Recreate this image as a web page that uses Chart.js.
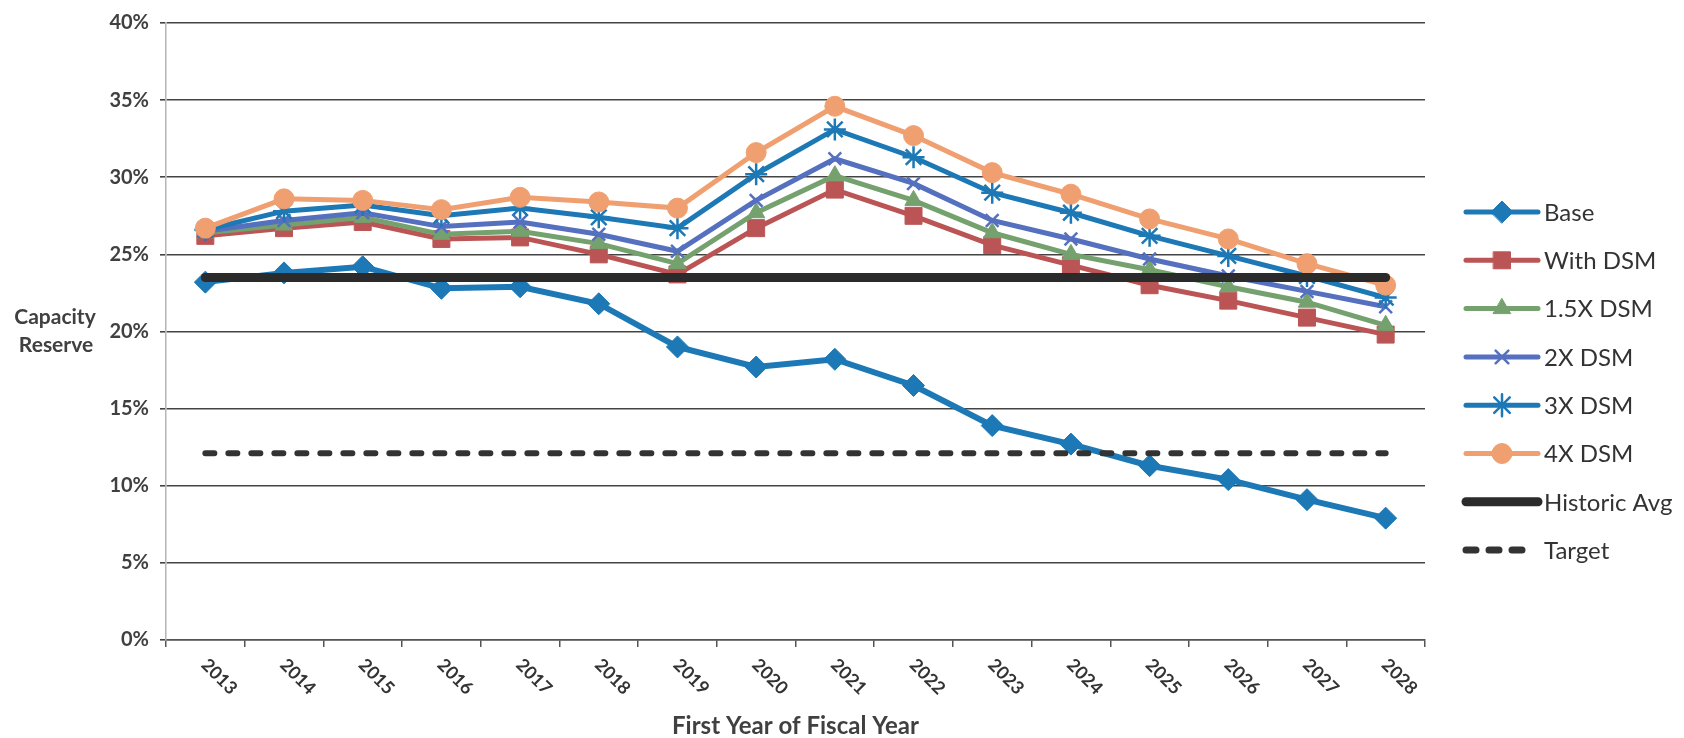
<!DOCTYPE html>
<html>
<head>
<meta charset="utf-8">
<script src="https://cdn.jsdelivr.net/npm/chart.js@4/dist/chart.umd.min.js"></script>
<style>
  html, body { margin: 0; padding: 0; background: #fff; }
</style>
</head>
<body>
<canvas id="reserveChart" width="1684" height="738"></canvas>
<script>
// fiscal years on the x axis
const years = ['2013', '2014', '2015', '2016', '2017', '2018', '2019', '2020',
               '2021', '2022', '2023', '2024', '2025', '2026', '2027', '2028'];

// capacity reserve, percent
const base      = [23.2, 23.8, 24.2, 22.8, 22.9, 21.8, 19.0, 17.7, 18.2, 16.5, 13.9, 12.7, 11.3, 10.4, 9.1, 7.9];
const withDsm   = [26.2, 26.7, 27.1, 26.0, 26.1, 25.0, 23.7, 26.7, 29.2, 27.5, 25.6, 24.3, 23.0, 22.0, 20.9, 19.8];
const dsm15     = [26.4, 26.9, 27.4, 26.3, 26.5, 25.7, 24.4, 27.7, 30.1, 28.5, 26.4, 25.0, 24.0, 22.9, 21.9, 20.4];
const dsm2      = [26.5, 27.2, 27.7, 26.8, 27.1, 26.3, 25.2, 28.5, 31.2, 29.6, 27.2, 26.0, 24.7, 23.6, 22.6, 21.6];
const dsm3      = [26.6, 27.8, 28.2, 27.5, 28.0, 27.4, 26.7, 30.2, 33.1, 31.3, 29.0, 27.7, 26.2, 24.9, 23.6, 22.2];
const dsm4      = [26.7, 28.6, 28.5, 27.9, 28.7, 28.4, 28.0, 31.6, 34.6, 32.7, 30.3, 28.9, 27.3, 26.0, 24.4, 23.0];
const historic  = [23.5, 23.5, 23.5, 23.5, 23.5, 23.5, 23.5, 23.5, 23.5, 23.5, 23.5, 23.5, 23.5, 23.5, 23.5, 23.5];
const target    = [12.1, 12.1, 12.1, 12.1, 12.1, 12.1, 12.1, 12.1, 12.1, 12.1, 12.1, 12.1, 12.1, 12.1, 12.1, 12.1];

// y axis ticks
const yTicks = [0, 5, 10, 15, 20, 25, 30, 35, 40];

function series(label, data, color, width, style, radius, order) {
    return {
        label: label,
        data: data,
        borderColor: color,
        backgroundColor: color,
        borderWidth: width,
        pointStyle: style,
        pointRadius: radius,
        pointBorderWidth: style === 'star' || style === 'crossRot' ? 2.5 : 1,
        pointHoverRadius: radius,
        tension: 0,
        order: order
    };
}

const datasets = [
    series('Base', base, '#1d78b6', 6, 'rectRot', 11, 8),
    series('With DSM', withDsm, '#bb5555', 5, 'rect', 12, 7),
    series('1.5X DSM', dsm15, '#74a16e', 5, 'triangle', 10, 6),
    series('2X DSM', dsm2, '#5470bf', 5, 'crossRot', 9, 5),
    series('3X DSM', dsm3, '#1d78b6', 5, 'star', 11, 4),
    series('4X DSM', dsm4, '#f0a070', 5, 'circle', 10, 3),
    {
        label: 'Historic Avg', data: historic, borderColor: '#2b2b2b', backgroundColor: '#2b2b2b',
        borderWidth: 9, pointRadius: 0, borderCapStyle: 'round', order: 2
    },
    {
        label: 'Target', data: target, borderColor: '#333333', backgroundColor: '#333333',
        borderWidth: 6, borderDash: [9, 14], borderCapStyle: 'round', pointRadius: 0, order: 1
    }
];

// rotated year labels, axis titles and the legend
const decor = {
    id: 'decor',
    afterDraw(chart) {
        const ctx = chart.ctx;
        const xs = chart.scales.x;
        const area = chart.chartArea;
        ctx.save();

        ctx.font = 'bold 18px Lato';
        ctx.fillStyle = '#333';
        ctx.textAlign = 'left';
        ctx.textBaseline = 'middle';
        years.forEach((yr, i) => {
            ctx.save();
            ctx.translate(xs.getPixelForTick(i) - 1, area.bottom + 22);
            ctx.rotate(Math.PI / 4);
            ctx.fillText(yr, 0, 0);
            ctx.restore();
        });

        ctx.font = 'bold 24px Lato';
        ctx.fillStyle = '#404040';
        ctx.textAlign = 'center';
        ctx.fillText('First Year of Fiscal Year', (area.left + area.right) / 2, 726);

        ctx.font = 'bold 21px Lato';
        ctx.fillText('Capacity', 55, 317);
        ctx.fillText('Reserve', 56, 345);

        // legend
        chart.data.datasets.forEach((ds, i) => {
            const y = 212 + i * 48.3;
            ctx.save();
            ctx.strokeStyle = ds.borderColor;
            ctx.lineWidth = ds.label === 'Historic Avg' ? 9 : (ds.label === 'Target' ? 7 : 5);
            ctx.lineCap = 'round';
            ctx.setLineDash(ds.label === 'Target' ? [10, 13] : []);
            ctx.beginPath();
            ctx.moveTo(1466, y);
            ctx.lineTo(ds.label === 'Target' ? 1530 : 1538, y);
            ctx.stroke();
            ctx.setLineDash([]);
            if (ds.pointRadius) {
                ctx.fillStyle = ds.backgroundColor;
                ctx.lineWidth = ds.pointBorderWidth;
                Chart.helpers.drawPoint(ctx, {
                    pointStyle: ds.pointStyle, radius: ds.pointRadius, rotation: 0,
                    borderWidth: ds.pointBorderWidth
                }, 1502, y);
            }
            ctx.restore();
            ctx.font = '24px Lato';
            ctx.fillStyle = '#333';
            ctx.textAlign = 'left';
            ctx.textBaseline = 'middle';
            ctx.fillText(ds.label, 1544, y + 1);
        });

        ctx.restore();
    }
};

new Chart(document.getElementById('reserveChart'), {
    type: 'line',
    data: { labels: years, datasets: datasets },
    options: {
        responsive: false,
        animation: false,
        layout: { padding: { top: 16, right: 259, left: 0, bottom: 0 } },
        plugins: { legend: { display: false }, tooltip: { enabled: false } },
        scales: {
            x: {
                offset: true,
                grid: { display: true, offset: true, drawOnChartArea: false, drawTicks: true,
                        tickLength: 7, color: '#555', lineWidth: 1.5 },
                border: { display: true, color: '#555', width: 1.5 },
                ticks: { display: false },
                afterFit(s) { s.height = 98; }
            },
            y: {
                min: 0,
                max: 40,
                afterBuildTicks(s) { s.ticks = yTicks.map(v => ({ value: v })); },
                grid: { color: '#444', lineWidth: 1.6, tickLength: 6 },
                border: { color: '#b5b5b5', width: 1.5 },
                ticks: {
                    padding: 11,
                    color: '#404040',
                    font: { family: 'Lato', weight: 'bold', size: 20 },
                    callback: v => v + '%'
                },
                afterFit(s) { s.width = 166; }
            }
        }
    },
    plugins: [decor]
});
</script>
</body>
</html>
